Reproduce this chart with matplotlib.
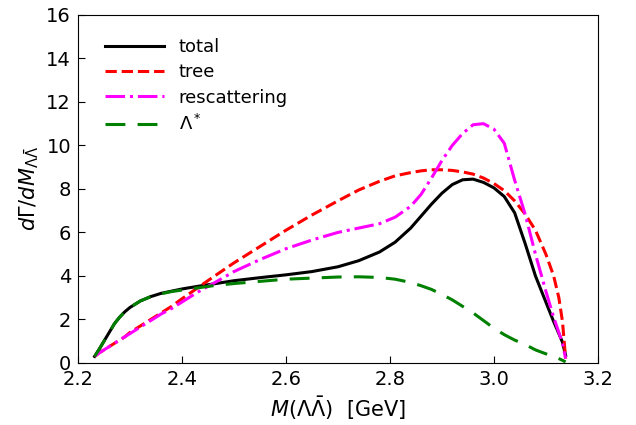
import numpy as np
import matplotlib.pyplot as plt

# invariant mass grid [GeV]
m = [2.232, 2.24, 2.25, 2.26, 2.27, 2.28, 2.29, 2.30, 2.32, 2.34, 2.36, 2.38, 2.40,
     2.43, 2.46, 2.50, 2.55, 2.60, 2.65, 2.70, 2.74, 2.78, 2.81, 2.84, 2.86, 2.88,
     2.90, 2.92, 2.94, 2.96, 2.98, 3.00, 3.02, 3.04, 3.06, 3.08, 3.10, 3.115, 3.125,
     3.132, 3.138]

total = [0.3, 0.6, 1.0, 1.4, 1.8, 2.1, 2.35, 2.55, 2.85, 3.05, 3.2, 3.3, 3.4,
         3.52, 3.63, 3.78, 3.92, 4.05, 4.2, 4.42, 4.7, 5.1, 5.55, 6.2, 6.75, 7.3,
         7.8, 8.2, 8.42, 8.45, 8.3, 8.05, 7.65, 6.9, 5.5, 4.0, 2.8, 1.9, 1.35,
         0.95, 0.35]
tree = [0.3, 0.45, 0.6, 0.75, 0.9, 1.05, 1.2, 1.4, 1.7, 2.0, 2.3, 2.6, 2.95,
        3.45, 3.95, 4.6, 5.35, 6.1, 6.8, 7.45, 7.95, 8.35, 8.6, 8.75, 8.83, 8.88,
        8.88, 8.85, 8.78, 8.68, 8.5, 8.25, 7.92, 7.45, 6.85, 6.1, 5.0, 4.0, 3.0,
        1.9, 0.2]
resc = [0.3, 0.45, 0.6, 0.75, 0.9, 1.05, 1.2, 1.35, 1.65, 1.95, 2.25, 2.5, 2.8,
        3.25, 3.65, 4.2, 4.75, 5.25, 5.65, 6.0, 6.2, 6.4, 6.7, 7.2, 7.75, 8.5,
        9.3, 10.0, 10.55, 10.95, 11.0, 10.75, 10.1, 8.4, 6.85, 5.0, 3.3, 2.1, 1.4,
        0.9, 0.2]
lam_star = [0.3, 0.6, 1.0, 1.4, 1.8, 2.1, 2.35, 2.55, 2.85, 3.05, 3.18, 3.28, 3.35,
            3.45, 3.55, 3.65, 3.75, 3.85, 3.9, 3.95, 3.96, 3.93, 3.85, 3.7, 3.55, 3.38,
            3.15, 2.9, 2.6, 2.3, 1.95, 1.6, 1.3, 1.05, 0.85, 0.6, 0.42, 0.3, 0.2,
            0.12, 0.05]

fig = plt.figure(figsize=(6.36, 4.25), dpi=100)
ax = fig.add_axes([0.1226, 0.146, 0.8174, 0.819])

ax.plot(m, total, color='black', lw=2.2, label='total')
ax.plot(m, tree, color='red', lw=2.2, ls='--', label='tree')
ax.plot(m, resc, color='magenta', lw=2.2, ls='-.', label='rescattering')
ax.plot(m, lam_star, color='green', lw=2.2, ls=(0, (6.5, 4)), label=r'$\Lambda^*$')

ax.set_xlim(2.2, 3.2)
ax.set_ylim(0, 16)
ax.set_xticks(np.arange(2.2, 3.21, 0.2))
ax.set_yticks(np.arange(0, 17, 2))
ax.tick_params(direction='in', labelsize=14, length=5, pad=5)
ax.set_xlabel(r'$M(\Lambda\bar{\Lambda})$  [GeV]', fontsize=15)
ax.set_ylabel(r'$d\Gamma/dM_{\Lambda\bar{\Lambda}}$', fontsize=15)
ax.legend(loc='upper left', frameon=False, fontsize=13, handlelength=3.3,
          labelspacing=0.4, bbox_to_anchor=(0.02, 0.98))

fig.savefig('out.png', dpi=100)
